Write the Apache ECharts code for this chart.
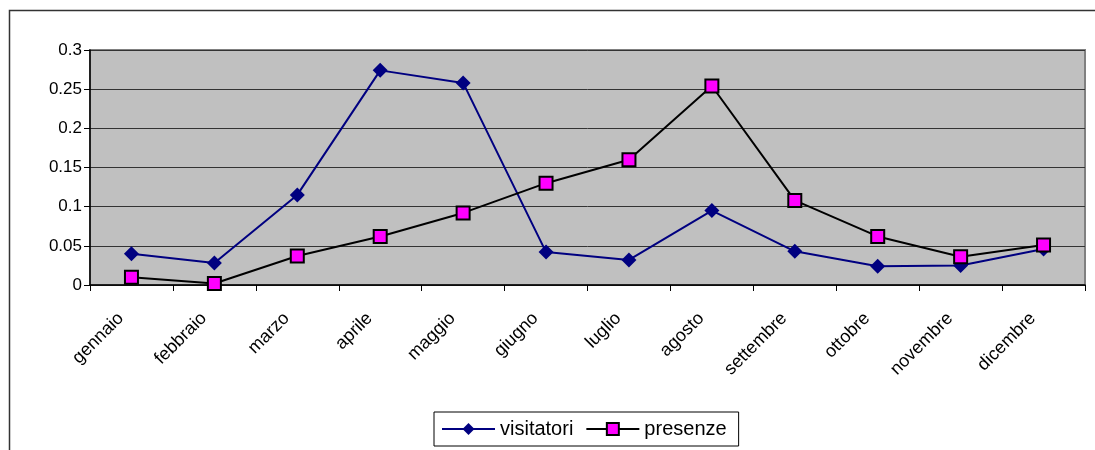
<!DOCTYPE html>
<html>
<head>
<meta charset="utf-8">
<style>
  html, body { margin: 0; padding: 0; background: #fff; }
  #chart { width: 1095px; height: 450px; }
</style>
<script src="https://cdn.jsdelivr.net/npm/echarts@6/dist/echarts.min.js"></script>
</head>
<body>
<div id="chart"></div>
<script>
// mesi
const months = ['gennaio', 'febbraio', 'marzo', 'aprile', 'maggio', 'giugno',
  'luglio', 'agosto', 'settembre', 'ottobre', 'novembre', 'dicembre']
// serie
const visitatori = [0.040, 0.028, 0.115, 0.274, 0.258, 0.042, 0.032, 0.095, 0.043, 0.024, 0.025, 0.046]
const presenze = [0.010, 0.002, 0.037, 0.062, 0.092, 0.130, 0.160, 0.254, 0.108, 0.062, 0.036, 0.051]

const chart = echarts.init(document.getElementById('chart'))
const font = 'Arial, "Liberation Sans", sans-serif'

chart.setOption({
  animation: false,
  textStyle: { fontFamily: font },
  // cornice esterna
  graphic: [{
    type: 'rect',
    shape: { x: 9.5, y: 10.5, width: 1200, height: 600 },
    style: { fill: 'none', stroke: '#333', lineWidth: 1.5 },
    silent: true
  }],
  grid: {
    left: 90, top: 50, right: 10, bottom: 165,
    show: true,
    backgroundColor: '#C0C0C0',
    borderColor: '#808080',
    borderWidth: 2
  },
  legend: {
    left: 434, top: 412,
    padding: [7, 12, 7, 7],
    borderColor: '#000', borderWidth: 1,
    itemWidth: 53, itemHeight: 15, itemGap: 12,
    textStyle: { fontSize: 20, color: '#000', fontFamily: font },
    data: ['visitatori', 'presenze']
  },
  xAxis: {
    type: 'category',
    data: months,
    boundaryGap: true,
    axisLine: { lineStyle: { color: '#000', width: 1.5 } },
    axisTick: { show: true, length: 6, lineStyle: { color: '#000' } },
    axisLabel: {
      rotate: 45, fontSize: 18, color: '#000', margin: 20,
      padding: [0, 15, 0, 0], fontFamily: font
    }
  },
  yAxis: {
    type: 'value',
    min: 0, max: 0.3, interval: 0.05,
    axisLine: { show: true, lineStyle: { color: '#000', width: 1.5 } },
    axisTick: { show: true, length: 6, lineStyle: { color: '#000' } },
    axisLabel: { fontSize: 17, color: '#000', margin: 8, fontFamily: font },
    splitLine: { lineStyle: { color: '#333', width: 1 } }
  },
  series: [
    {
      name: 'visitatori',
      type: 'line',
      data: visitatori,
      symbol: 'diamond',
      symbolSize: 15,
      lineStyle: { color: '#000080', width: 2 },
      itemStyle: { color: '#000080' }
    },
    {
      name: 'presenze',
      type: 'line',
      data: presenze,
      symbol: 'rect',
      symbolSize: 13,
      lineStyle: { color: '#000', width: 2 },
      itemStyle: { color: '#FF00FF', borderColor: '#000', borderWidth: 2 }
    }
  ]
})
</script>
</body>
</html>
